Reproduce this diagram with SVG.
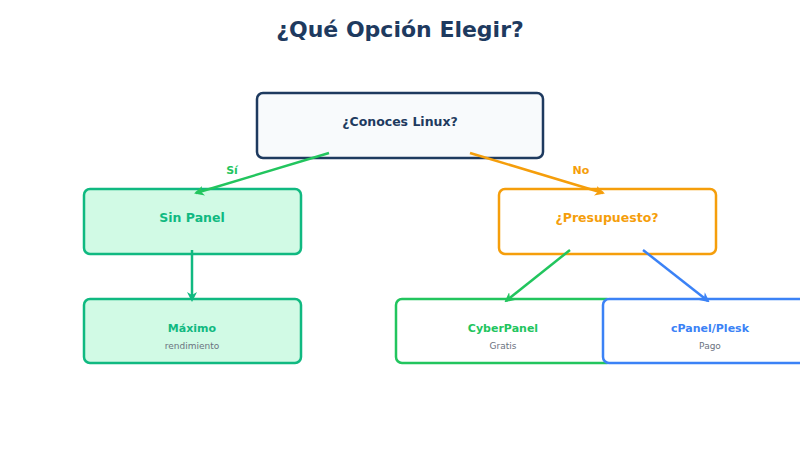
<svg xmlns="http://www.w3.org/2000/svg" width="800" height="450" viewBox="0 0 800 450">
<defs>
<style>
.t{font-family:"DejaVu Sans",sans-serif;font-weight:bold;text-anchor:middle}
.s{font-family:"DejaVu Sans",sans-serif;font-size:9px;fill:#6b7280;text-anchor:middle}
.box{stroke-width:2.5}
.c{fill:none;stroke-width:2.5}
</style>
<marker id="ag" viewBox="0 0 10 10" refX="8" refY="5" markerWidth="4" markerHeight="4" orient="auto"><path d="M0,0 L10,5 L0,10 L3,5 Z" fill="#22c55e"/></marker>
<marker id="ae" viewBox="0 0 10 10" refX="8" refY="5" markerWidth="4" markerHeight="4" orient="auto"><path d="M0,0 L10,5 L0,10 L3,5 Z" fill="#10b981"/></marker>
<marker id="ao" viewBox="0 0 10 10" refX="8" refY="5" markerWidth="4" markerHeight="4" orient="auto"><path d="M0,0 L10,5 L0,10 L3,5 Z" fill="#f59e0b"/></marker>
<marker id="ab" viewBox="0 0 10 10" refX="8" refY="5" markerWidth="4" markerHeight="4" orient="auto"><path d="M0,0 L10,5 L0,10 L3,5 Z" fill="#3b82f6"/></marker>
</defs>
<rect width="800" height="450" fill="#ffffff"/>
<text class="t" x="400" y="37" font-size="22" fill="#1e3a5f">¿Qué Opción Elegir?</text>
<g id="n-linux">
<rect class="box" x="257" y="93" width="286" height="65" rx="6" fill="#f8fafc" stroke="#1e3a5f"/>
<text class="t" x="400" y="126" font-size="12.5" fill="#1e3a5f">¿Conoces Linux?</text>
</g>
<g id="n-sinpanel">
<rect class="box" x="84" y="189" width="217" height="65" rx="6" fill="#d1fae5" stroke="#10b981"/>
<text class="t" x="192" y="222" font-size="12.5" fill="#10b981">Sin Panel</text>
</g>
<g id="n-presupuesto">
<rect class="box" x="499" y="189" width="217" height="65" rx="6" fill="#ffffff" stroke="#f59e0b"/>
<text class="t" x="607" y="222" font-size="12.5" fill="#f59e0b">¿Presupuesto?</text>
</g>
<g id="n-maximo">
<rect class="box" x="84" y="299" width="217" height="64" rx="6" fill="#d1fae5" stroke="#10b981"/>
<text class="t" x="192" y="332" font-size="11" fill="#10b981">Máximo</text>
<text class="s" x="192" y="349">rendimiento</text>
</g>
<g id="n-cyberpanel">
<rect class="box" x="396" y="299" width="217" height="64" rx="6" fill="#ffffff" stroke="#22c55e"/>
<text class="t" x="503" y="332" font-size="11" fill="#22c55e">CyberPanel</text>
<text class="s" x="503" y="349">Gratis</text>
</g>
<g id="n-cpanel">
<rect class="box" x="603" y="299" width="217" height="64" rx="6" fill="#ffffff" stroke="#3b82f6"/>
<text class="t" x="710" y="332" font-size="11" fill="#3b82f6">cPanel/Plesk</text>
<text class="s" x="710" y="349">Pago</text>
</g>
<g id="connectors">
<line class="c" x1="329" y1="153" x2="196" y2="193" stroke="#22c55e" marker-end="url(#ag)"/>
<text class="t" x="232" y="174" font-size="11" fill="#22c55e">Sí</text>
<line class="c" x1="470" y1="153" x2="603" y2="193" stroke="#f59e0b" marker-end="url(#ao)"/>
<text class="t" x="581" y="174" font-size="11" fill="#f59e0b">No</text>
<line class="c" x1="192" y1="250" x2="192" y2="300" stroke="#10b981" stroke-width="2" marker-end="url(#ae)"/>
<line class="c" x1="570" y1="250" x2="506" y2="301" stroke="#22c55e" stroke-width="2" marker-end="url(#ag)"/>
<line class="c" x1="643" y1="250" x2="708" y2="301" stroke="#3b82f6" stroke-width="2" marker-end="url(#ab)"/>
</g>
</svg>
